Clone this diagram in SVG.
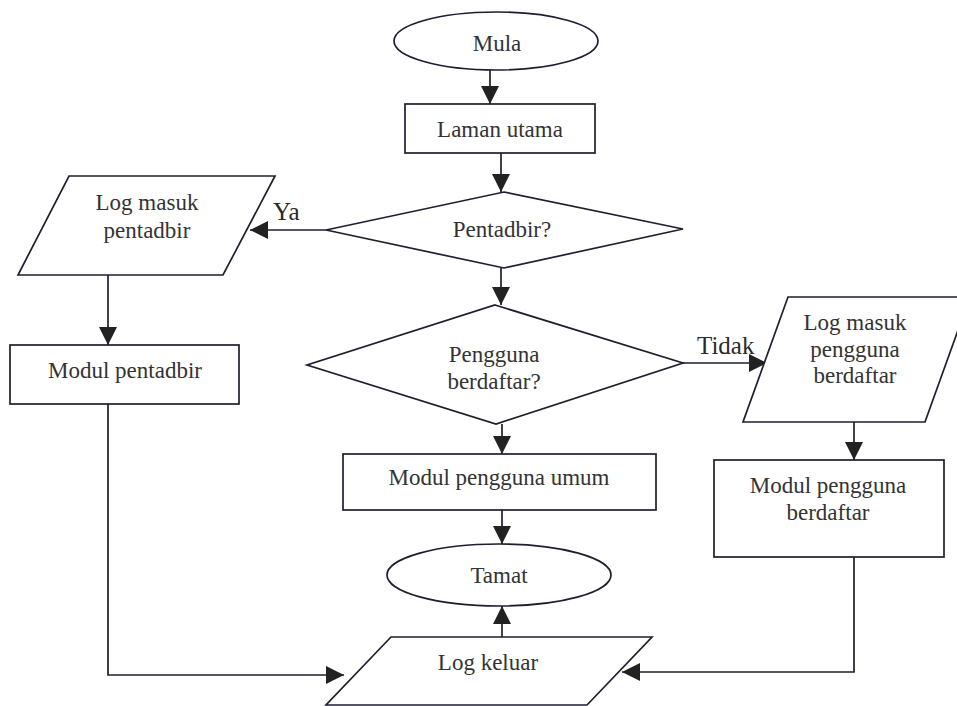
<svg xmlns="http://www.w3.org/2000/svg" width="957" height="706" viewBox="0 0 957 706">
<style>
.shape{fill:#ffffff;stroke:#1e1e30;stroke-width:1.7}
.conn{fill:none;stroke:#1e1e30;stroke-width:1.7;marker-end:url(#arr)}
.t{font-family:"Liberation Serif","Times New Roman",serif;font-size:23px;fill:#333333;text-anchor:middle}
.lbl{font-family:"Liberation Serif","Times New Roman",serif;font-size:25px;fill:#2a2a2a}
</style>
<defs>
<marker id="arr" markerUnits="userSpaceOnUse" markerWidth="18" markerHeight="18" refX="18" refY="9" orient="auto">
<path d="M0,0 L18,9 L0,18 Z" fill="#222222"/>
</marker>
</defs>
<rect x="0" y="0" width="957" height="706" fill="#ffffff"/>
<g id="connectors">
<path class="conn" d="M490,70 L490,104"/>
<path class="conn" d="M501,153 L501,192"/>
<path class="conn" d="M326,230 L250,230"/>
<path class="conn" d="M501,268 L501,305"/>
<path class="conn" d="M108,275 L108,345"/>
<path class="conn" d="M683,363 L767,363"/>
<path class="conn" d="M502,424 L502,454"/>
<path class="conn" d="M854,422 L854,460"/>
<path class="conn" d="M502,510 L502,544"/>
<path class="conn" d="M502,637 L502,606"/>
<path class="conn" d="M108,404 L108,675 L344,675"/>
<path class="conn" d="M854,557 L854,672 L622,672"/>
<text class="lbl" x="273" y="220">Ya</text>
<text class="lbl" x="697" y="354">Tidak</text>
</g>
<g id="mula">
<ellipse class="shape" cx="496" cy="41" rx="102" ry="29"/>
<text class="t" x="497" y="51">Mula</text>
</g>
<g id="laman">
<rect class="shape" x="405" y="104" width="190" height="49"/>
<text class="t" x="500" y="137">Laman utama</text>
</g>
<g id="pentadbir">
<polygon class="shape" points="504,192 683,229 504,268 326,230"/>
<text class="t" x="502" y="237">Pentadbir?</text>
</g>
<g id="login-admin">
<polygon class="shape" points="69,176 275,176 223,275 18,275"/>
<text class="t" x="147" y="210">Log masuk</text>
<text class="t" x="147" y="238">pentadbir</text>
</g>
<g id="modul-admin">
<rect class="shape" x="10" y="345" width="229" height="59"/>
<text class="t" x="125" y="378">Modul pentadbir</text>
</g>
<g id="pengguna">
<polygon class="shape" points="495,305 683,363 496,424 307,365"/>
<text class="t" x="494" y="362">Pengguna</text>
<text class="t" x="494" y="389">berdaftar?</text>
</g>
<g id="login-user">
<polygon class="shape" points="788,297 970,297 925,422 743,422"/>
<text class="t" x="855" y="330">Log masuk</text>
<text class="t" x="855" y="357">pengguna</text>
<text class="t" x="855" y="383">berdaftar</text>
</g>
<g id="modul-umum">
<rect class="shape" x="343" y="454" width="313" height="56"/>
<text class="t" x="499" y="485">Modul pengguna umum</text>
</g>
<g id="modul-berdaftar">
<rect class="shape" x="714" y="460" width="230" height="97"/>
<text class="t" x="828" y="493">Modul pengguna</text>
<text class="t" x="828" y="520">berdaftar</text>
</g>
<g id="tamat">
<ellipse class="shape" cx="499" cy="575" rx="112" ry="31"/>
<text class="t" x="499" y="583">Tamat</text>
</g>
<g id="logout">
<polygon class="shape" points="391,637 652,637 587,705 326,705"/>
<text class="t" x="488" y="670">Log keluar</text>
</g>
</svg>
